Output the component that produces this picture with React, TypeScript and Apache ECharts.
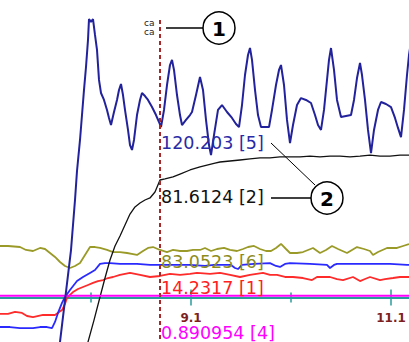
import { useEffect, useRef } from "react";
import * as echarts from "echarts";

// ---- axis / cursor ----
const X_MIN = 7.19;
const X_MAX = 11.28;
const X_TICKS = [9.1, 11.1];
const X_MINOR = [8.1, 10.1];
const CURSOR_T = 8.79;
const CURSOR_TOP = 191;
const CURSOR_BOTTOM = -31;

// ---- cursor readouts ----
const R1 = 14.2317;
const R2 = 81.6124;
const R4 = 0.890954;
const R5 = 120.203;
const R6 = 83.0523;

// ---- channel data [t, value] ----
const ch5: number[][] = [
  [7.76, -51.7], [7.79, -31.0], [7.84, -2.1], [7.9, 32.4], [7.94, 66.9], [7.96, 86.9], [7.99, 108.3],
  [8.01, 125.5], [8.03, 142.8], [8.05, 158.6], [8.07, 177.3], [8.08, 191.7], [8.1, 189.7], [8.12, 191.7],
  [8.14, 180.7], [8.16, 170.4], [8.18, 149.7], [8.2, 140.7], [8.23, 135.9], [8.26, 129.0], [8.28, 123.5],
  [8.3, 118.6], [8.33, 127.6], [8.36, 135.9], [8.38, 142.8], [8.4, 146.9], [8.42, 139.3], [8.44, 129.0],
  [8.47, 115.2], [8.49, 104.8], [8.51, 101.4], [8.53, 108.3], [8.56, 125.5], [8.59, 135.9], [8.61, 140.7],
  [8.64, 138.6], [8.67, 135.9], [8.71, 131.0], [8.75, 125.5], [8.78, 120.7], [8.8, 117.2], [8.83, 129.0],
  [8.86, 146.2], [8.89, 160.0], [8.91, 163.5], [8.93, 156.6], [8.96, 139.3], [8.99, 125.5], [9.01, 118.6],
  [9.05, 122.1], [9.09, 125.5], [9.11, 127.6], [9.15, 139.3], [9.19, 151.7], [9.22, 142.8], [9.25, 122.1],
  [9.28, 104.8], [9.3, 97.9], [9.33, 111.7], [9.37, 129.0], [9.41, 132.4], [9.46, 127.6], [9.51, 123.5],
  [9.55, 119.3], [9.58, 117.2], [9.61, 132.4], [9.64, 153.1], [9.67, 166.9], [9.69, 171.7], [9.71, 163.5],
  [9.74, 142.8], [9.77, 125.5], [9.8, 117.2], [9.84, 117.2], [9.88, 117.2], [9.91, 129.0], [9.95, 146.2],
  [9.98, 156.6], [10.0, 160.0], [10.03, 146.2], [10.06, 122.1], [10.09, 106.2], [10.12, 118.6], [10.16, 132.4],
  [10.2, 137.2], [10.25, 135.9], [10.3, 133.8], [10.34, 125.5], [10.37, 118.6], [10.4, 115.2], [10.43, 129.0],
  [10.46, 149.7], [10.48, 163.5], [10.5, 171.7], [10.53, 156.6], [10.56, 135.9], [10.6, 124.1], [10.65, 124.8],
  [10.7, 125.5], [10.73, 135.9], [10.76, 151.0], [10.79, 161.4], [10.81, 153.1], [10.84, 135.9], [10.87, 115.2],
  [10.9, 99.3], [10.93, 115.2], [10.97, 129.0], [11.0, 134.5], [11.05, 133.1], [11.1, 131.0], [11.14, 123.5],
  [11.17, 116.6], [11.2, 110.3], [11.23, 129.0], [11.26, 153.1], [11.28, 166.9], [11.31, 180.7],
];

const ch2: number[][] = [
  [8.04, -43.4], [8.07, -31.0], [8.13, -15.9], [8.19, 0], [8.24, 13.1], [8.29, 25.5], [8.34, 35.2],
  [8.39, 42.1], [8.44, 49.7], [8.49, 57.2], [8.54, 62.1], [8.59, 64.8], [8.64, 66.9], [8.69, 68.3],
  [8.74, 72.4], [8.79, 80.7], [8.84, 81.4], [8.92, 82.8], [8.99, 84.8], [9.09, 87.6], [9.19, 89.7],
  [9.26, 91.0], [9.34, 92.4], [9.39, 93.1], [9.49, 93.8], [9.59, 94.5], [9.69, 95.2], [9.79, 95.9],
  [9.89, 95.9], [9.99, 96.6], [10.09, 96.6], [10.19, 96.6], [10.29, 97.2], [10.39, 96.6], [10.49, 97.2],
  [10.59, 97.2], [10.69, 96.6], [10.79, 97.2], [10.89, 97.9], [10.99, 97.2], [11.09, 97.2], [11.19, 97.9],
  [11.28, 97.9],
];

const ch6: number[][] = [
  [7.19, 89.5], [7.27, 89.5], [7.39, 87.7], [7.45, 82.5], [7.52, 80.7], [7.59, 86.0], [7.64, 84.2],
  [7.69, 77.2], [7.74, 70.2], [7.79, 61.4], [7.84, 54.4], [7.89, 50.9], [7.94, 54.4], [7.99, 59.6],
  [8.04, 73.7], [8.09, 87.7], [8.14, 87.7], [8.19, 86.0], [8.26, 82.5], [8.32, 78.9], [8.39, 78.9],
  [8.46, 77.2], [8.52, 75.4], [8.56, 73.7], [8.62, 80.7], [8.67, 86.0], [8.72, 87.7], [8.79, 82.5],
  [8.86, 78.9], [8.92, 82.5], [8.99, 80.7], [9.06, 80.7], [9.12, 82.5], [9.19, 82.5], [9.24, 86.0],
  [9.3, 80.7], [9.36, 84.2], [9.43, 86.0], [9.49, 82.5], [9.56, 80.7], [9.62, 84.2], [9.67, 87.7],
  [9.73, 89.5], [9.79, 84.2], [9.85, 80.7], [9.9, 80.7], [9.95, 86.0], [10.0, 93.0], [10.05, 84.2],
  [10.09, 77.2], [10.16, 77.2], [10.22, 78.9], [10.27, 82.5], [10.32, 86.0], [10.39, 77.2], [10.45, 82.5],
  [10.51, 89.5], [10.57, 84.2], [10.66, 77.2], [10.71, 82.5], [10.76, 87.7], [10.83, 84.2], [10.89, 80.7],
  [10.92, 73.7], [10.97, 78.9], [11.06, 86.0], [11.16, 86.0], [11.22, 89.5], [11.28, 93.0],
];

const ch3: number[][] = [
  [7.19, -20.7], [7.29, -20.7], [7.39, -21.4], [7.52, -21.4], [7.59, -20.7], [7.66, -20.7], [7.71, -21.4],
  [7.74, -17.2], [7.77, -11.0], [7.81, -4.1], [7.84, 0], [7.89, 4.8], [7.96, 11.0], [8.02, 13.8],
  [8.09, 16.6], [8.14, 18.6], [8.19, 22.8], [8.24, 23.4], [8.29, 23.4], [8.39, 22.8], [8.56, 22.8],
  [8.69, 22.1], [8.79, 22.1], [8.94, 22.1], [9.09, 22.1], [9.24, 21.4], [9.33, 22.1], [9.5, 22.1],
  [9.54, 20.0], [9.57, 19.3], [9.61, 22.1], [9.73, 22.8], [9.89, 23.4], [9.95, 21.4], [9.99, 20.7],
  [10.04, 22.8], [10.09, 23.4], [10.29, 22.8], [10.46, 22.1], [10.49, 20.0], [10.53, 22.1], [10.56, 22.8],
  [10.74, 22.8], [10.89, 22.8], [11.09, 22.8], [11.26, 22.1], [11.28, 22.1],
];

const ch1: number[][] = [
  [7.19, -11.7], [7.27, -11.7], [7.34, -10.3], [7.41, -11.0], [7.46, -13.1], [7.52, -13.8], [7.62, -12.4],
  [7.74, -12.4], [7.81, -9.0], [7.84, -4.8], [7.86, -0.7], [7.89, 1.4], [7.92, 3.4], [7.97, 5.5],
  [8.02, 6.9], [8.07, 8.3], [8.12, 9.7], [8.17, 11.0], [8.22, 11.7], [8.27, 13.1], [8.32, 13.8],
  [8.39, 15.2], [8.49, 16.6], [8.59, 15.2], [8.69, 13.8], [8.79, 14.5], [8.89, 15.9], [8.99, 15.2],
  [9.09, 15.9], [9.16, 16.6], [9.29, 15.9], [9.39, 16.6], [9.49, 15.2], [9.59, 13.8], [9.69, 15.2],
  [9.82, 16.6], [9.89, 15.2], [9.96, 15.2], [10.04, 13.8], [10.12, 13.8], [10.22, 13.1], [10.31, 11.7],
  [10.36, 13.8], [10.49, 13.8], [10.56, 12.4], [10.62, 11.7], [10.72, 13.8], [10.79, 11.0], [10.84, 12.4],
  [10.89, 13.8], [10.99, 11.7], [11.04, 12.4], [11.12, 13.1], [11.19, 13.8], [11.28, 13.8],
];

const ch4: number[][] = [
  [7.19, 0.89], [8.79, 0.89], [11.28, 0.89],
];

const TEAL = "#2a9c9c";
const FONT = "DejaVu Sans";

function readout(value: number, tag: string, color: string, dy: number) {
  return {
    silent: true,
    symbol: "circle",
    symbolSize: 0,
    itemStyle: { color: "transparent" },
    data: [{ coord: [CURSOR_T, value], value }],
    label: {
      show: true,
      position: [1, dy],
      align: "left",
      verticalAlign: "middle",
      formatter: () => `${value} [${tag}]`,
      color,
      fontFamily: FONT,
      fontSize: 17.5,
      lineHeight: 17,
    },
  };
}

function line(name: string, data: number[][], color: string, width: number, yAxisIndex = 0, extra: any = {}) {
  return {
    name,
    type: "line",
    data,
    xAxisIndex: 0,
    yAxisIndex,
    showSymbol: false,
    symbol: "none",
    silent: true,
    lineStyle: { color, width },
    z: 2,
    ...extra,
  };
}

export default function App() {
  const ref = useRef<HTMLDivElement>(null);
  useEffect(() => {
    const chart = echarts.init(ref.current!, null, { renderer: "svg" });
    const AXIS_OFFSET = -44.5;
    const baseX: any = {
      type: "value",
      min: X_MIN,
      max: X_MAX,
      position: "bottom",
      offset: AXIS_OFFSET,
      splitLine: { show: false },
      axisLabel: { show: false },
      axisLine: { show: false, onZero: false },
      axisTick: { show: false },
    };
    const tickStyle = { color: TEAL, width: 1.5 };
    chart.setOption({
      animation: false,
      backgroundColor: "#ffffff",
      grid: { left: 0, right: 0, top: 0, bottom: 0, containLabel: false, outerBoundsMode: "none" },
      xAxis: [
        {
          ...baseX,
          axisLine: { show: true, onZero: false, lineStyle: { color: TEAL, width: 2 } },
          axisTick: { show: true, customValues: X_TICKS, length: 8, inside: false, lineStyle: tickStyle },
          axisLabel: {
            show: true,
            customValues: X_TICKS,
            margin: 14,
            color: "#7d1f1f",
            fontSize: 12,
            lineHeight: 12,
            fontWeight: "bold",
            fontFamily: FONT,
            formatter: (v: number) => v.toFixed(1),
          },
        },
        { ...baseX, axisTick: { show: true, customValues: X_TICKS, length: 8, inside: true, lineStyle: tickStyle } },
        { ...baseX, axisTick: { show: true, customValues: X_MINOR, length: 5, inside: false, lineStyle: tickStyle } },
        { ...baseX, axisTick: { show: true, customValues: X_MINOR, length: 5, inside: true, lineStyle: tickStyle } },
      ],
      yAxis: [
        { type: "value", show: false, min: -31.03, max: 204.83, splitLine: { show: false } },
        { type: "value", show: false, min: -78.95, max: 521.05, splitLine: { show: false } },
      ],
      series: [
        line("6", ch6, "#9a9a28", 1.8, 1, { markPoint: readout(R6, "6", "#8c8c1c", 12) }),
        line("1", ch1, "#ff2a2a", 1.8, 0, { markPoint: readout(R1, "1", "#ff2020", 12) }),
        line("3", ch3, "#2a2aff", 1.8, 0),
        line("2", ch2, "#111111", 1.3, 0, { markPoint: readout(R2, "2", "#111111", 18) }),
        line("4", ch4, "#ff00ff", 2, 0, {
          markPoint: readout(R4, "4", "#ff00ff", 37.5),
          markLine: {
            silent: true,
            symbol: ["none", "none"],
            label: { show: false },
            lineStyle: { color: "#a82828", type: [4, 3], width: 2 },
            data: [[{ coord: [CURSOR_T, CURSOR_TOP] }, { coord: [CURSOR_T, CURSOR_BOTTOM] }]],
          },
        }),
        line("5", ch5, "#22229c", 2, 0, { z: 3, markPoint: readout(R5, "5", "#2a2aa6", 20) }),
      ],
      graphic: [
        { type: "text", x: 144, y: 18, style: { text: "ca", fill: "#222", font: `9px "${FONT}"` } },
        { type: "text", x: 144, y: 27, style: { text: "ca", fill: "#222", font: `9px "${FONT}"` } },
        { type: "line", shape: { x1: 166, y1: 28, x2: 203, y2: 28 }, style: { stroke: "#000", lineWidth: 1.5 } },
        { type: "circle", shape: { cx: 219, cy: 28, r: 16 }, style: { fill: "#fff", stroke: "#000", lineWidth: 1.5 } },
        {
          type: "text", x: 219, y: 29,
          style: { text: "1", fill: "#000", font: `bold 20px "${FONT}"`, align: "center", verticalAlign: "middle", textAlign: "center", textVerticalAlign: "middle" },
        },
        { type: "line", shape: { x1: 271, y1: 143, x2: 315, y2: 185 }, style: { stroke: "#000", lineWidth: 1 } },
        { type: "line", shape: { x1: 271, y1: 198, x2: 311, y2: 198 }, style: { stroke: "#000", lineWidth: 1.5 } },
        { type: "circle", shape: { cx: 327, cy: 198, r: 16 }, style: { fill: "#fff", stroke: "#000", lineWidth: 1.5 } },
        {
          type: "text", x: 327, y: 199,
          style: { text: "2", fill: "#000", font: `bold 20px "${FONT}"`, align: "center", verticalAlign: "middle", textAlign: "center", textVerticalAlign: "middle" },
        },
      ],
    });
    return () => chart.dispose();
  }, []);
  return (
    <div
      ref={ref}
      style={{ position: "fixed", left: 0, top: 0, width: 409, height: 342, background: "#fff" }}
    />
  );
}
